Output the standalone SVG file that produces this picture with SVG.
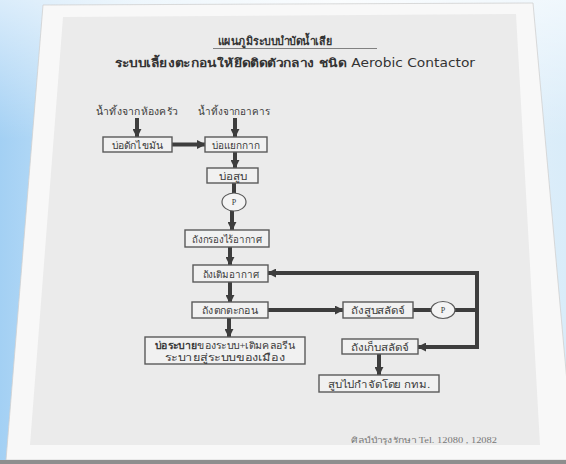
<svg xmlns="http://www.w3.org/2000/svg" width="566" height="464" viewBox="0 0 566 464">
<defs>
<linearGradient id="bg" x1="0" y1="0" x2="1" y2="0">
<stop offset="0" stop-color="#a3d0f4"/>
<stop offset="0.25" stop-color="#d6ebf9"/>
<stop offset="0.6" stop-color="#f4f9fd"/>
<stop offset="1" stop-color="#d9ecf9"/>
</linearGradient>
<linearGradient id="bgTop" x1="0" y1="0" x2="0" y2="1">
<stop offset="0" stop-color="#ffffff" stop-opacity="0.6"/>
<stop offset="0.3" stop-color="#ffffff" stop-opacity="0"/>
</linearGradient>
<marker id="ah" viewBox="0 0 10 10" refX="9" refY="5" markerWidth="9" markerHeight="9" markerUnits="userSpaceOnUse" orient="auto">
<path d="M0,0 L10,5 L0,10 Z" fill="#3d3d3d"/>
</marker>
<style>
.box{fill:#f1f1f1;stroke:#5a5a5a;stroke-width:1.4}
.pump{fill:#f4f4f4;stroke:#5a5a5a;stroke-width:1.2}
.t{font-family:"Liberation Serif","DejaVu Serif",serif;font-size:10px;fill:#3a3a3a;text-anchor:middle}
.p{font-family:"Liberation Serif","DejaVu Serif",serif;font-size:8px;fill:#3a3a3a;text-anchor:middle}
.w{stroke:#3d3d3d;stroke-width:4;fill:none}
.a{stroke:#3d3d3d;stroke-width:4;fill:none;marker-end:url(#ah)}
.h{font-family:"DejaVu Sans","Noto Sans",sans-serif;font-weight:bold;fill:#333}
</style>
</defs>
<rect width="566" height="464" fill="url(#bg)"/>
<rect width="566" height="464" fill="url(#bgTop)"/>
<polygon points="43,5 533,3 574,460 6,460" fill="#f8f8f8" stroke="#d0d0d0" stroke-width="0.8"/>
<polygon points="63,17 516,14 540,445 30,445" fill="#ebebeb"/>
<rect x="0" y="460" width="566" height="4" fill="#8e8e8e"/>

<text class="h" x="275" y="45" font-size="11.5" text-anchor="middle" textLength="114" lengthAdjust="spacingAndGlyphs">แผนภูมิระบบบำบัดน้ำเสีย</text>
<line x1="213" y1="48.5" x2="377" y2="48.5" stroke="#666" stroke-width="0.8"/>
<text class="h" x="115" y="67" font-size="11.5" textLength="360" lengthAdjust="spacingAndGlyphs">ระบบเลี้ยงตะกอนให้ยึดติดตัวกลาง ชนิด <tspan font-weight="normal">Aerobic Contactor</tspan></text>

<g id="connectors">
<line class="a" x1="137" y1="118" x2="137" y2="137"/>
<line class="a" x1="235" y1="118" x2="235" y2="137"/>
<line class="a" x1="172" y1="144.5" x2="205" y2="144.5"/>
<line class="a" x1="235" y1="152" x2="235" y2="168"/>
<line class="w" x1="234" y1="183" x2="234" y2="193"/>
<line class="a" x1="232" y1="211" x2="232" y2="230"/>
<line class="a" x1="230" y1="247" x2="230" y2="265"/>
<line class="a" x1="230" y1="282" x2="230" y2="303"/>
<line class="a" x1="229" y1="318" x2="229" y2="337"/>
<line class="a" x1="268" y1="310" x2="343" y2="310"/>
<line class="w" x1="413" y1="310" x2="431" y2="310"/>
<line class="w" x1="455" y1="310" x2="477" y2="310"/>
<polyline class="w" points="477,273 477,347"/>
<line class="a" x1="479" y1="273" x2="268" y2="273"/>
<line class="a" x1="479" y1="347" x2="418" y2="347"/>
<line class="a" x1="379" y1="354" x2="379" y2="375"/>
</g>

<g id="src-kitchen"><text class="t" x="137" y="115" textLength="82" lengthAdjust="spacingAndGlyphs">น้ำทิ้งจากห้องครัว</text></g>
<g id="src-building"><text class="t" x="234" y="115" textLength="72" lengthAdjust="spacingAndGlyphs">น้ำทิ้งจากอาคาร</text></g>
<g id="grease"><rect class="box" x="103" y="137" width="69" height="15"/><text class="t" x="137.5" y="148.5" textLength="52" lengthAdjust="spacingAndGlyphs">บ่อดักไขมัน</text></g>
<g id="sep"><rect class="box" x="205" y="137" width="62" height="15"/><text class="t" x="236" y="148.5" textLength="48" lengthAdjust="spacingAndGlyphs">บ่อแยกกาก</text></g>
<g id="sump"><rect class="box" x="207" y="168" width="51" height="15"/><text class="t" x="232.5" y="179.5" textLength="28" lengthAdjust="spacingAndGlyphs">บ่อสูบ</text></g>
<g id="pump1"><ellipse class="pump" cx="234" cy="202" rx="12" ry="9"/><text class="p" x="234" y="205">P</text></g>
<g id="anaerobic"><rect class="box" x="185" y="230" width="84" height="17"/><text class="t" x="227" y="242.5" textLength="70" lengthAdjust="spacingAndGlyphs">ถังกรองไร้อากาศ</text></g>
<g id="aeration"><rect class="box" x="193" y="265" width="75" height="17"/><text class="t" x="230.5" y="277.5" textLength="56" lengthAdjust="spacingAndGlyphs">ถังเติมอากาศ</text></g>
<g id="clarifier"><rect class="box" x="192" y="302" width="76" height="16"/><text class="t" x="230" y="314" textLength="56" lengthAdjust="spacingAndGlyphs">ถังตกตะกอน</text></g>
<g id="discharge"><rect class="box" x="145" y="337" width="160" height="27"/><text class="t" x="225" y="348.5" textLength="140" lengthAdjust="spacingAndGlyphs"><tspan font-weight="bold">บ่อระบาย</tspan>ของระบบ+เติมคลอรีน</text><text class="t" x="225" y="360.5" textLength="120" lengthAdjust="spacingAndGlyphs">ระบายสู่ระบบของเมือง</text></g>
<g id="sludge-pump-tank"><rect class="box" x="343" y="302" width="70" height="16"/><text class="t" x="378" y="314" textLength="54" lengthAdjust="spacingAndGlyphs">ถังสูบสลัดจ์</text></g>
<g id="pump2"><ellipse class="pump" cx="443" cy="310" rx="12" ry="8.5"/><text class="p" x="443" y="313">P</text></g>
<g id="sludge-store"><rect class="box" x="342" y="339" width="76" height="15"/><text class="t" x="380" y="350.5" textLength="58" lengthAdjust="spacingAndGlyphs">ถังเก็บสลัดจ์</text></g>
<g id="disposal"><rect class="box" x="319" y="375" width="120" height="17"/><text class="t" x="379" y="387.5" textLength="102" lengthAdjust="spacingAndGlyphs">สูบไปกำจัดโดย กทม.</text></g>

<text x="424" y="443" font-family="'Liberation Serif','DejaVu Serif',serif" font-size="8" fill="#777" text-anchor="middle" textLength="146" lengthAdjust="spacingAndGlyphs">ศิลป์บำรุงรักษา Tel. 12080 , 12082</text>
</svg>
